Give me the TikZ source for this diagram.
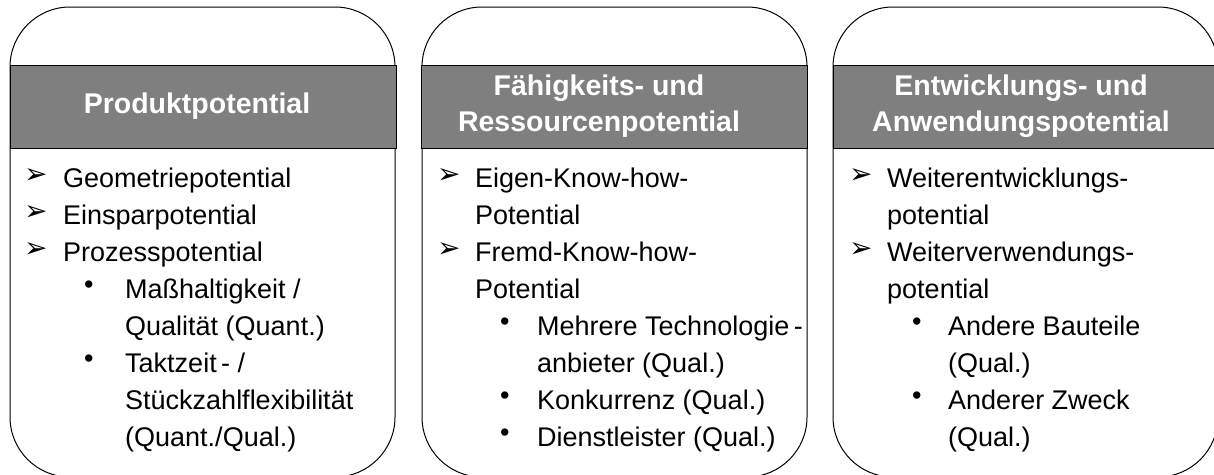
\documentclass[tikz,border=0pt]{standalone}
\usepackage{fontspec}
\setmainfont{Liberation Sans}
\newfontfamily\dingfont{DejaVu Sans}
\definecolor{headgray}{HTML}{7F7F7F}
\tikzset{
  panel/.style={draw=black, line width=1pt, rounded corners=60pt},
  headbar/.style={draw=black, line width=1pt, fill=headgray},
  title/.style={text=white, font=\bfseries\fontsize{28.5}{36}\selectfont, align=center, inner sep=0pt},
  entry/.style={anchor=base west, inner sep=0pt, font=\fontsize{27}{37}\selectfont},
  arrowmark/.style={anchor=west, inner sep=0pt, font=\dingfont\fontsize{28}{28}\selectfont},
  dotmark/.style={anchor=west, inner sep=0pt, font=\fontsize{27}{37}\selectfont},
}
\begin{document}
\begin{tikzpicture}[x=1pt,y=-1pt]
  \useasboundingbox (0,0) rectangle (1214,474);
  \clip (0,0) rectangle (1214,474);
  % panels
  \draw[panel] (10,7) rectangle (395,477);
  \draw[panel] (422,7) rectangle (807,477);
  \draw[panel] (833,7) rectangle (1218,477);
  % header bars
  \draw[headbar] (10,65) rectangle (396,148);
  \draw[headbar] (421,65) rectangle (807,148);
  \draw[headbar] (833,65) rectangle (1220,148);
  \node[title] (prod) at (197,106.5) {Produktpotential};
  \node[title] (faeh) at (599,106.5) {Fähigkeits- und\\Ressourcenpotential};
  \node[title] (entw) at (1021,106.5) {Entwicklungs- und\\Anwendungspotential};
  % first panel
  \path
    (24,176) node[arrowmark] (m1a) {➢}
    (63,187) node[entry] (e1a) {Geometriepotential}
    (24,213) node[arrowmark] (m1b) {➢}
    (63,224) node[entry] (e1b) {Einsparpotential}
    (24,250) node[arrowmark] (m1c) {➢}
    (63,261) node[entry] (e1c) {Prozesspotential}
    (84,287) node[dotmark] (d1a) {•}
    (125,298) node[entry] (e1d) {Maßhaltigkeit /}
    (125,335) node[entry] (e1e) {Qualität (Quant.)}
    (84,361) node[dotmark] (d1b) {•}
    (125,372) node[entry] (e1f) {Taktzeit\,- /}
    (125,409) node[entry] (e1g) {Stückzahlflexibilität}
    (125,446) node[entry] (e1h) {(Quant./Qual.)};
  % second panel
  \path
    (437,176) node[arrowmark] (m2a) {➢}
    (475,187) node[entry] (e2a) {Eigen-Know-how-}
    (475,224) node[entry] (e2b) {Potential}
    (437,250) node[arrowmark] (m2b) {➢}
    (475,261) node[entry] (e2c) {Fremd-Know-how-}
    (475,298) node[entry] (e2d) {Potential}
    (500,324) node[dotmark] (d2a) {•}
    (537,335) node[entry] (e2e) {Mehrere Technologie\,-}
    (537,372) node[entry] (e2f) {anbieter (Qual.)}
    (500,398) node[dotmark] (d2b) {•}
    (537,409) node[entry] (e2g) {Konkurrenz (Qual.)}
    (500,435) node[dotmark] (d2c) {•}
    (537,446) node[entry] (e2h) {Dienstleister (Qual.)};
  % third panel
  \path
    (849,176) node[arrowmark] (m3a) {➢}
    (887,187) node[entry] (e3a) {Weiterentwicklungs-}
    (887,224) node[entry] (e3b) {potential}
    (849,250) node[arrowmark] (m3b) {➢}
    (887,261) node[entry] (e3c) {Weiterverwendungs-}
    (887,298) node[entry] (e3d) {potential}
    (912,324) node[dotmark] (d3a) {•}
    (948,335) node[entry] (e3e) {Andere Bauteile}
    (948,372) node[entry] (e3f) {(Qual.)}
    (912,398) node[dotmark] (d3b) {•}
    (948,409) node[entry] (e3g) {Anderer Zweck}
    (948,446) node[entry] (e3h) {(Qual.)};
\end{tikzpicture}
\end{document}
